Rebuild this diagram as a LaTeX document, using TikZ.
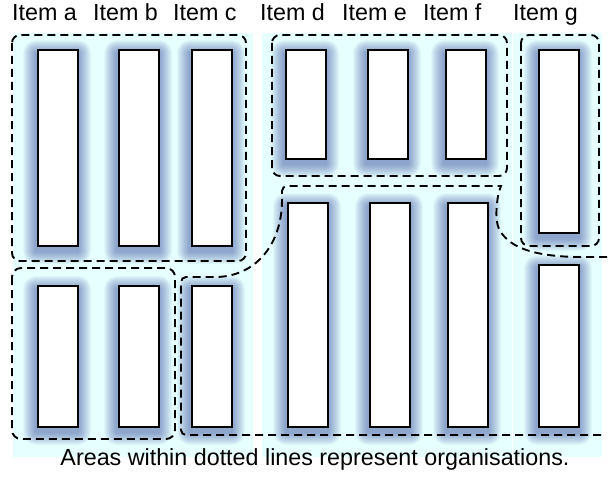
\documentclass[tikz,border=0pt]{standalone}
\usepackage{fontspec}
\setmainfont{Liberation Sans}
\definecolor{bgc}{RGB}{230,255,255}
\definecolor{glowc}{RGB}{40,60,150}
\tikzset{
  boxst/.style={draw=black, line width=2.2pt, fill=white, inner sep=0pt, anchor=north west, minimum width=40pt},
  org/.style={draw=black, line width=1.9pt, dash pattern=on 8pt off 5pt},
  lab/.style={anchor=base west, inner sep=0pt, font=\fontsize{23.3}{27}\selectfont},
  panel/.style={fill=bgc},
}
\newcommand\glowat[4]{%
  \foreach \i in {1,...,13}{%
    \fill[glowc, opacity=0.045, rounded corners=\i pt] ({#1-\i},{#2-\i+5}) rectangle ({#3+\i},{#4+\i+5});%
  }%
}
% name, x, y, height
\newcommand\ibox[4]{%
  \glowat{#2}{#3}{#2+42}{#3+#4}%
  \node[boxst, minimum height={(#4-2)*1pt}] (#1) at (#2+1,#3+1) {};%
}
\begin{document}
\begin{tikzpicture}[x=1pt,y=-1pt]
\useasboundingbox (0,0) rectangle (609,476);
% background panels
\fill[panel] (13,33) rectangle (253,457);
\fill[panel] (262,33) rectangle (512,457);
\fill[panel] (513,33) rectangle (602,457);
% boxes
\ibox{a1}{36}{48}{198}
\ibox{b1}{117}{48}{198}
\ibox{c1}{190}{48}{198}
\ibox{a2}{36}{284}{143}
\ibox{b2}{117}{284}{143}
\ibox{c2}{190}{284}{143}
\ibox{d1}{284}{48}{111}
\ibox{e1}{366}{48}{111}
\ibox{f1}{444}{48}{111}
\ibox{g1}{537}{48}{185}
\ibox{d2}{286}{201}{226}
\ibox{e2}{368}{201}{226}
\ibox{f2}{446}{201}{226}
\ibox{g2}{537}{263}{164}
% organisations
\draw[org, rounded corners=8pt] (12,35) rectangle (246,261);
\draw[org, rounded corners=9pt] (12,268) rectangle (175,439);
\draw[org, rounded corners=8pt] (272,35) rectangle (507,176);
\draw[org, rounded corners=8pt] (521,35) rectangle (599,246);
\draw[org] (601,435) [rounded corners=5pt] -- (181,435) -- (181,277) [sharp corners] -- (215,277)
  .. controls (255,277) and (282,245) .. (282,200) [rounded corners=5pt] -- (282,186) -- (496,186) [sharp corners]
  .. controls (501,186) and (500,188) .. (498,196)
  .. controls (495,215) and (496,228) .. (503,235)
  .. controls (515,250) and (540,256) .. (575,257) -- (609,257);
% labels
\node[lab] (la) at (12,21) {Item a};
\node[lab] (lb) at (93,21) {Item b};
\node[lab] (lc) at (173,21) {Item c};
\node[lab] (ld) at (260,21) {Item d};
\node[lab] (le) at (342,21) {Item e};
\node[lab] (lf) at (423,21) {Item f};
\node[lab] (lg) at (513,21) {Item g};
\node[anchor=base, inner sep=0pt, font=\fontsize{23.3}{27}\selectfont] (cap) at (315,465) {Areas within dotted lines represent organisations.};
\end{tikzpicture}
\end{document}
